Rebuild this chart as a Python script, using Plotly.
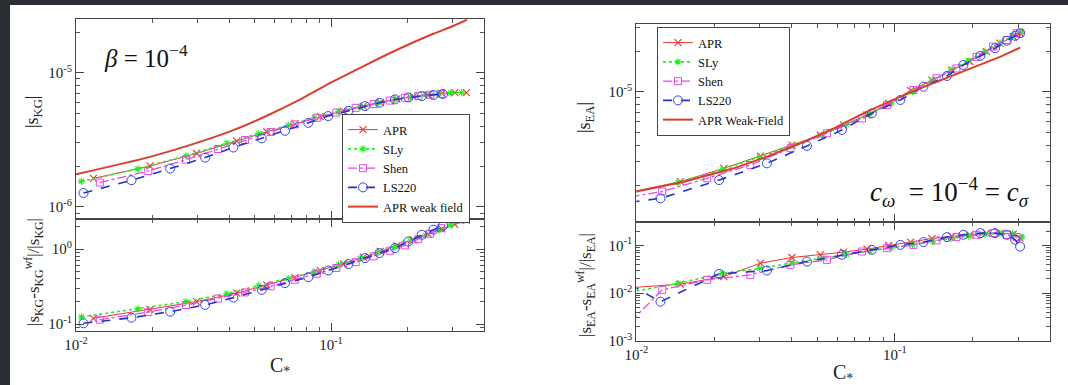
import plotly.graph_objects as go

# ---------------- tick labels ----------------
x_tickvals = [0.01, 0.1]
x_ticktext = ["10<sup>-2</sup>", "10<sup>-1</sup>"]
yLtop_tickvals = [1e-6, 1e-5]
yLtop_ticktext = ["10<sup>-6</sup>", "10<sup>-5</sup>"]
yLbot_tickvals = [0.1, 1.0]
yLbot_ticktext = ["10<sup>-1</sup>", "10<sup>0</sup>"]
yRtop_tickvals = [1e-6, 1e-5]
yRtop_ticktext = ["10<sup>-6</sup>", "10<sup>-5</sup>"]
yRbot_tickvals = [1e-3, 1e-2, 1e-1]
yRbot_ticktext = ["10<sup>-3</sup>", "10<sup>-2</sup>", "10<sup>-1</sup>"]

# ---------------- LEFT PANEL ----------------
wfL_x = [0.0100, 0.0195, 0.0306, 0.0414, 0.056, 0.0755, 0.102, 0.138, 0.187, 0.252, 0.293, 0.341]
wfL_y = [1.75e-6, 2.36e-6, 3.05e-6, 3.73e-6, 4.78e-6, 6.30e-6, 8.6e-6, 1.15e-5, 1.52e-5, 1.95e-5, 2.18e-5, 2.48e-5]

aprL_x = [0.0117, 0.0195, 0.0297, 0.0427, 0.056, 0.0723, 0.0906, 0.112, 0.134, 0.156, 0.181, 0.210, 0.241, 0.272, 0.306, 0.340]
aprL_top = [1.63e-6, 2.02e-6, 2.50e-6, 3.09e-6, 3.63e-6, 4.14e-6, 4.70e-6, 5.18e-6, 5.64e-6, 6.01e-6, 6.37e-6, 6.62e-6, 6.86e-6, 7.02e-6, 7.10e-6, 7.10e-6]
aprL_bot = [0.120, 0.158, 0.200, 0.259, 0.334, 0.418, 0.519, 0.637, 0.773, 0.929, 1.11, 1.33, 1.58, 1.85, 2.13, 2.41]

slyL_x = [0.0105, 0.0175, 0.027, 0.039, 0.052, 0.068, 0.086, 0.107, 0.130, 0.153, 0.178, 0.205, 0.235, 0.265, 0.295, 0.325]
slyL_top = [1.55e-6, 1.92e-6, 2.40e-6, 2.98e-6, 3.52e-6, 4.05e-6, 4.62e-6, 5.12e-6, 5.58e-6, 5.96e-6, 6.32e-6, 6.60e-6, 6.84e-6, 7.00e-6, 7.08e-6, 7.10e-6]
slyL_bot = [0.125, 0.160, 0.200, 0.255, 0.325, 0.405, 0.500, 0.620, 0.750, 0.900, 1.07, 1.28, 1.52, 1.80, 2.10, 2.40]

shenL_x = [0.0124, 0.0192, 0.027, 0.036, 0.046, 0.058, 0.072, 0.088, 0.105, 0.125, 0.147, 0.170, 0.195, 0.220, 0.245, 0.270]
shenL_top = [1.52e-6, 1.85e-6, 2.25e-6, 2.70e-6, 3.15e-6, 3.62e-6, 4.12e-6, 4.62e-6, 5.05e-6, 5.47e-6, 5.85e-6, 6.20e-6, 6.50e-6, 6.72e-6, 6.85e-6, 6.95e-6]
shenL_bot = [0.115, 0.145, 0.180, 0.220, 0.265, 0.320, 0.390, 0.470, 0.560, 0.670, 0.800, 0.950, 1.12, 1.35, 1.60, 1.90]

lsL_x = [0.0107, 0.0165, 0.0234, 0.0321, 0.0414, 0.0535, 0.066, 0.0815, 0.0975, 0.117, 0.136, 0.155, 0.178, 0.201, 0.227, 0.252, 0.275]
lsL_top = [1.27e-6, 1.58e-6, 1.93e-6, 2.33e-6, 2.77e-6, 3.24e-6, 3.69e-6, 4.23e-6, 4.75e-6, 5.20e-6, 5.64e-6, 5.97e-6, 6.32e-6, 6.54e-6, 6.70e-6, 6.82e-6, 6.94e-6]
lsL_bot = [0.103, 0.122, 0.147, 0.181, 0.226, 0.286, 0.352, 0.423, 0.519, 0.631, 0.758, 0.885, 1.03, 1.26, 1.55, 1.81, 2.05]

# ---------------- RIGHT PANEL ----------------
wfR_x = [0.0100, 0.0153, 0.0238, 0.032, 0.0431, 0.058, 0.078, 0.105, 0.141, 0.190, 0.255, 0.305]
wfR_y = [1.80e-6, 2.13e-6, 2.68e-6, 3.27e-6, 4.12e-6, 5.33e-6, 7.10e-6, 9.18e-6, 1.16e-5, 1.45e-5, 1.82e-5, 2.13e-5]

aprR_x = [0.0095, 0.0148, 0.0218, 0.0302, 0.040, 0.0515, 0.0634, 0.078, 0.0946, 0.115, 0.139, 0.166, 0.195, 0.226, 0.255, 0.287, 0.305]
aprR_top = [1.78e-6, 2.13e-6, 2.68e-6, 3.31e-6, 4.00e-6, 4.75e-6, 5.64e-6, 6.70e-6, 8.18e-6, 1.02e-5, 1.22e-5, 1.45e-5, 1.68e-5, 1.99e-5, 2.30e-5, 2.57e-5, 2.73e-5]
aprR_bot = [0.0130, 0.0154, 0.0222, 0.0425, 0.056, 0.0637, 0.0726, 0.084, 0.100, 0.118, 0.140, 0.155, 0.168, 0.182, 0.182, 0.174, 0.143]

slyR_x = [0.0095, 0.0145, 0.0215, 0.030, 0.040, 0.052, 0.065, 0.080, 0.097, 0.117, 0.140, 0.165, 0.193, 0.223, 0.255, 0.285, 0.310]
slyR_top = [1.75e-6, 2.10e-6, 2.62e-6, 3.25e-6, 3.95e-6, 4.75e-6, 5.70e-6, 6.80e-6, 8.20e-6, 1.00e-5, 1.22e-5, 1.45e-5, 1.70e-5, 1.98e-5, 2.30e-5, 2.60e-5, 2.80e-5]
slyR_bot = [0.0105, 0.0160, 0.0260, 0.0330, 0.0430, 0.0540, 0.0650, 0.0770, 0.0900, 0.105, 0.122, 0.140, 0.158, 0.172, 0.180, 0.175, 0.150]

shenR_x = [0.0095, 0.0126, 0.0188, 0.0276, 0.0395, 0.0546, 0.0746, 0.0932, 0.118, 0.145, 0.173, 0.207, 0.240, 0.271, 0.296]
shenR_top = [1.64e-6, 1.80e-6, 2.26e-6, 2.84e-6, 3.79e-6, 4.90e-6, 6.32e-6, 7.94e-6, 1.03e-5, 1.26e-5, 1.49e-5, 1.82e-5, 2.17e-5, 2.43e-5, 2.73e-5]
shenR_bot = [0.0025, 0.0117, 0.0190, 0.0242, 0.0393, 0.0500, 0.0748, 0.0880, 0.103, 0.128, 0.150, 0.168, 0.182, 0.168, 0.150]

lsR_x = [0.0095, 0.0124, 0.0209, 0.032, 0.0457, 0.0624, 0.0815, 0.105, 0.129, 0.159, 0.184, 0.214, 0.244, 0.271, 0.292, 0.305]
lsR_top = [1.50e-6, 1.60e-6, 2.19e-6, 2.92e-6, 3.94e-6, 5.18e-6, 6.90e-6, 8.67e-6, 1.09e-5, 1.31e-5, 1.58e-5, 1.85e-5, 2.11e-5, 2.40e-5, 2.61e-5, 2.73e-5]
lsR_bot = [0.0149, 0.0066, 0.0254, 0.0298, 0.0460, 0.0637, 0.0812, 0.103, 0.118, 0.150, 0.168, 0.182, 0.182, 0.168, 0.132, 0.095]

# ---------------- styles ----------------
C_APR, C_SLY, C_SHEN, C_LS, C_WF = "#ee3333", "#22ee22", "#ee44ee", "#2233cc", "#d9412f"
FONT = "Liberation Serif, Times New Roman, serif"

STY = {
    "APR": dict(line=dict(color=C_APR, width=1), marker=dict(symbol="x-thin-open", size=7, line=dict(color=C_APR, width=1.1), color=C_APR)),
    "SLy": dict(line=dict(color=C_SLY, width=1.6, dash="dot"), marker=dict(symbol="asterisk-open", size=6, line=dict(color=C_SLY, width=1.1), color=C_SLY)),
    "Shen": dict(line=dict(color=C_SHEN, width=1.3, dash="dashdot"), marker=dict(symbol="square-open", size=7, line=dict(color=C_SHEN, width=1), color=C_SHEN)),
    "LS220": dict(line=dict(color=C_LS, width=1.6, dash="dash"), marker=dict(symbol="circle-open", size=9, line=dict(color="#3344ee", width=1), color="#3344ee")),
}

fig = go.Figure()

def add(name, x, y, xa, ya, legend, show):
    s = STY[name]
    fig.add_trace(go.Scatter(x=x, y=y, mode="lines+markers", name=name, line=s["line"], marker=s["marker"],
                             xaxis=xa, yaxis=ya, legend=legend, showlegend=show))

add("APR", aprL_x, aprL_top, "x", "y", "legend", True)
add("SLy", slyL_x, slyL_top, "x", "y", "legend", True)
add("Shen", shenL_x, shenL_top, "x", "y", "legend", True)
add("LS220", lsL_x, lsL_top, "x", "y", "legend", True)
fig.add_trace(go.Scatter(x=wfL_x, y=wfL_y, mode="lines", name="APR weak field", line=dict(color=C_WF, width=2, shape="spline", smoothing=0.6),
                         xaxis="x", yaxis="y", legend="legend"))
add("APR", aprL_x, aprL_bot, "x2", "y2", "legend", False)
add("SLy", slyL_x, slyL_bot, "x2", "y2", "legend", False)
add("Shen", shenL_x, shenL_bot, "x2", "y2", "legend", False)
add("LS220", lsL_x, lsL_bot, "x2", "y2", "legend", False)

add("APR", aprR_x, aprR_top, "x3", "y3", "legend2", True)
add("SLy", slyR_x, slyR_top, "x3", "y3", "legend2", True)
add("Shen", shenR_x, shenR_top, "x3", "y3", "legend2", True)
add("LS220", lsR_x, lsR_top, "x3", "y3", "legend2", True)
fig.add_trace(go.Scatter(x=wfR_x, y=wfR_y, mode="lines", name="APR Weak-Field", line=dict(color=C_WF, width=2),
                         xaxis="x3", yaxis="y3", legend="legend2"))
add("APR", aprR_x, aprR_bot, "x4", "y4", "legend2", False)
add("SLy", slyR_x, slyR_bot, "x4", "y4", "legend2", False)
add("Shen", shenR_x, shenR_bot, "x4", "y4", "legend2", False)
add("LS220", lsR_x, lsR_bot, "x4", "y4", "legend2", False)

W, H = 1068, 385
def px(v): return v / W
def py(v): return 1 - v / H

axcommon = dict(type="log", showline=True, linecolor="#444444", linewidth=1.1, mirror="allticks", ticks="inside",
                ticklen=8, tickwidth=1.1, tickcolor="#444444", showgrid=False, zeroline=False, automargin=False,
                tickmode="array", tickfont=dict(family=FONT, size=15, color="#222222"),
                minor=dict(ticks="inside", ticklen=4, tickwidth=1, tickcolor="#555555", dtick="D1", showgrid=False))

xL = [px(76), px(484)]
xR = [px(636.3), px(1050)]
xt = dict(tickvals=x_tickvals, ticktext=x_ticktext)
lay = dict(
    xaxis=dict(axcommon, **xt, domain=xL, range=[-2, -0.4], anchor="y", showticklabels=False),
    xaxis2=dict(axcommon, **xt, domain=xL, range=[-2, -0.4], anchor="y2", matches="x"),
    xaxis3=dict(axcommon, **xt, domain=xR, range=[-2, -0.4], anchor="y3", showticklabels=False),
    xaxis4=dict(axcommon, **xt, domain=xR, range=[-2, -0.4], anchor="y4", matches="x3"),
    yaxis=dict(axcommon, tickvals=yLtop_tickvals, ticktext=yLtop_ticktext, domain=[py(219), py(19)], range=[-6.09, -4.6], anchor="x"),
    yaxis2=dict(axcommon, tickvals=yLbot_tickvals, ticktext=yLbot_ticktext, domain=[py(331), py(219)], range=[-1.09, 0.40], anchor="x2"),
    yaxis3=dict(axcommon, tickvals=yRtop_tickvals, ticktext=yRtop_ticktext, domain=[py(221.7), py(24)], range=[-5.97, -4.495], anchor="x3"),
    yaxis4=dict(axcommon, tickvals=yRbot_tickvals, ticktext=yRbot_ticktext, domain=[py(340.7), py(221.7)], range=[-3.0, -0.5], anchor="x4"),
)
fig.update_layout(**lay)

legcommon = dict(bgcolor="white", bordercolor="#444444", borderwidth=1, xanchor="left", yanchor="top",
                 font=dict(family=FONT, size=12.5, color="#111111"), itemwidth=30, tracegroupgap=0)
fig.update_layout(
    legend=dict(legcommon, x=px(342), y=py(114)),
    legend2=dict(legcommon, x=px(657), y=py(27)),
)

ann = []
tf = dict(family=FONT, size=18, color="#222222")
ann.append(dict(text="|s<sub>KG</sub>|", x=px(33), y=py(112), textangle=-90, font=tf))
ann.append(dict(text="|s<sub>KG</sub>-s<sub>KG</sub><sup>wf</sup>|/|s<sub>KG</sub>|", x=px(33), y=py(272), textangle=-90, font=dict(tf, size=17)))
ann.append(dict(text="C<sub>*</sub>", x=px(280), y=py(366), font=dict(tf, size=20)))
ann.append(dict(text="|s<sub>EA</sub>|", x=px(585), y=py(118), textangle=-90, font=tf))
ann.append(dict(text="|s<sub>EA</sub>-s<sub>EA</sub><sup>wf</sup>|/|s<sub>EA</sub>|", x=px(585), y=py(285), textangle=-90, font=dict(tf, size=17)))
ann.append(dict(text="C<sub>*</sub>", x=px(843), y=py(373), font=dict(tf, size=20)))
ann.append(dict(text="<i>β</i> = 10<sup>−4</sup>", x=px(146), y=py(56), font=dict(family=FONT, size=25, color="#111111")))
ann.append(dict(text="<i>c<sub>ω</sub></i>  = 10<sup>−4</sup> = <i>c<sub>σ</sub></i>", x=px(949), y=py(192), font=dict(family=FONT, size=27, color="#111111")))
for a in ann:
    a.update(xref="paper", yref="paper", showarrow=False, xanchor="center", yanchor="middle")
fig.update_layout(annotations=ann)

fig.update_layout(shapes=[
    dict(type="rect", xref="paper", yref="paper", x0=0, x1=1, y0=py(5), y1=1, fillcolor="#2b2e33", line=dict(width=0), layer="below"),
    dict(type="rect", xref="paper", yref="paper", x0=0, x1=px(10), y0=0, y1=1, fillcolor="#2b2e33", line=dict(width=0), layer="below"),
])

fig.update_layout(width=W, height=H, margin=dict(l=0, r=0, t=0, b=0), paper_bgcolor="white", plot_bgcolor="white",
                  font=dict(family=FONT))
fig.write_html("out.html", config={"displayModeBar": False},
               post_script="document.body.style.margin='0';document.body.style.overflow='hidden';")
